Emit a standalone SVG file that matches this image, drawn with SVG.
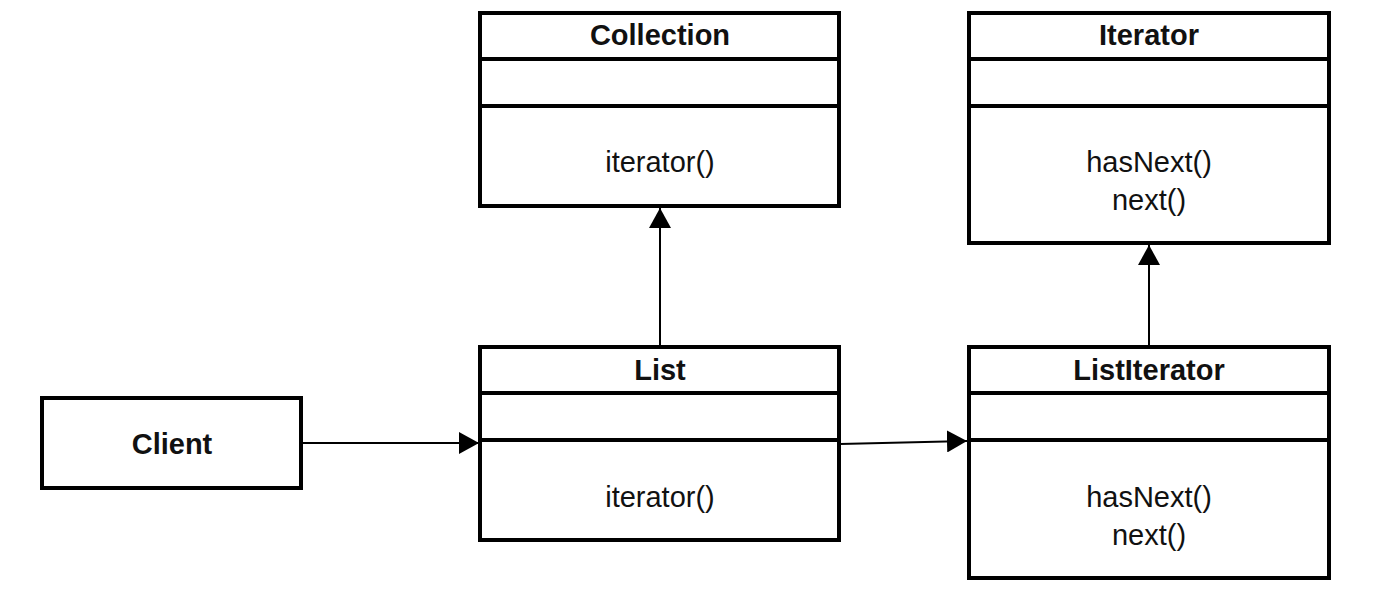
<svg xmlns="http://www.w3.org/2000/svg" width="1380" height="611" viewBox="0 0 1380 611">
<style>
.box{fill:#fff;stroke:#000;stroke-width:4}
.sep{stroke:#000;stroke-width:4}
.t{font-family:"Liberation Sans",Arial,sans-serif;font-size:29px;fill:#111;text-anchor:middle}
.b{font-weight:bold}
.c{stroke:#000;stroke-width:2;fill:none}
</style>
<defs>
<marker id="arr" markerWidth="20" markerHeight="22" refX="20" refY="11" orient="auto" markerUnits="userSpaceOnUse">
<path d="M0,0 L20,11 L0,22 Z" fill="#000"/>
</marker>
</defs>
<rect width="1380" height="611" fill="#fff"/>
<g id="connectors">
<line class="c" x1="302" y1="443" x2="479" y2="443" marker-end="url(#arr)"/>
<line class="c" x1="840" y1="444" x2="967" y2="441" marker-end="url(#arr)"/>
<line class="c" x1="660" y1="347" x2="660" y2="208" marker-end="url(#arr)"/>
<line class="c" x1="1149" y1="347" x2="1149" y2="245" marker-end="url(#arr)"/>
</g>
<g id="collection">
<rect class="box" x="480" y="13" width="359" height="193"/>
<line class="sep" x1="480" y1="59" x2="839" y2="59"/>
<line class="sep" x1="480" y1="106" x2="839" y2="106"/>
<text class="t b" x="660" y="45">Collection</text>
<text class="t" x="660" y="172">iterator()</text>
</g>
<g id="iterator">
<rect class="box" x="969" y="13" width="360" height="230"/>
<line class="sep" x1="969" y1="59" x2="1329" y2="59"/>
<line class="sep" x1="969" y1="106" x2="1329" y2="106"/>
<text class="t b" x="1149" y="45">Iterator</text>
<text class="t" x="1149" y="172">hasNext()</text>
<text class="t" x="1149" y="210">next()</text>
</g>
<g id="list">
<rect class="box" x="480" y="347" width="359" height="193"/>
<line class="sep" x1="480" y1="393" x2="839" y2="393"/>
<line class="sep" x1="480" y1="440" x2="839" y2="440"/>
<text class="t b" x="660" y="380">List</text>
<text class="t" x="660" y="507">iterator()</text>
</g>
<g id="listiterator">
<rect class="box" x="969" y="347" width="360" height="231"/>
<line class="sep" x1="969" y1="393" x2="1329" y2="393"/>
<line class="sep" x1="969" y1="440" x2="1329" y2="440"/>
<text class="t b" x="1149" y="380">ListIterator</text>
<text class="t" x="1149" y="507">hasNext()</text>
<text class="t" x="1149" y="545">next()</text>
</g>
<g id="client">
<rect class="box" x="42" y="398" width="259" height="90"/>
<text class="t b" x="172" y="454">Client</text>
</g>
</svg>
